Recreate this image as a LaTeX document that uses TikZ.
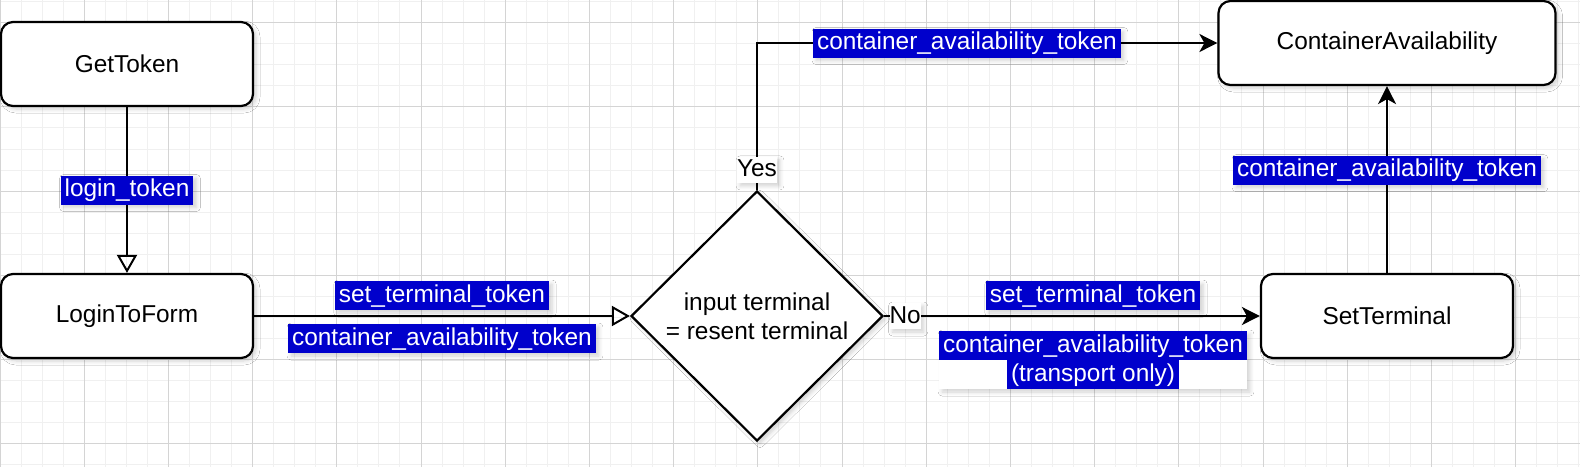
\documentclass[tikz,border=0pt]{standalone}
\usepackage{fontspec}
\setmainfont{Liberation Sans}
\usetikzlibrary{arrows.meta, shapes.geometric, shadows.blur}

\definecolor{tagblue}{RGB}{0,0,204}
\definecolor{gridminor}{RGB}{240,240,240}
\definecolor{gridmajor}{RGB}{212,212,212}
\setlength{\fboxsep}{1pt}
\newcommand{\tagline}[1]{\colorbox{tagblue}{\hspace*{1pt}\rule[-3pt]{0pt}{12.5pt}#1\hspace*{1pt}}}

\begin{document}
\begin{tikzpicture}[x=0.5pt, y=-0.5pt, line width=1pt, font=\fontsize{12.2pt}{14.5pt}\selectfont, soft shadow/.style={blur shadow={shadow xshift=1.5pt, shadow yshift=-1.5pt, shadow opacity=18, shadow blur steps=6, shadow blur radius=2pt}}, box node/.style={rectangle, draw, rounded corners=6pt, line width=1.1pt, fill=white, minimum width=126pt, minimum height=42pt, soft shadow}, cond node/.style={diamond, draw, line width=1.1pt, fill=white, minimum width=126pt, minimum height=125pt, inner sep=0pt, align=center, soft shadow}, tag node/.style={fill=tagblue, text=white, inner xsep=2pt, inner ysep=1pt, text height=9.5pt, text depth=3pt, soft shadow}, tag pair/.style={fill=white, text=white, inner sep=0pt, align=center, soft shadow}, flag node/.style={fill=white, inner xsep=0pt, inner ysep=.5pt, text height=9.5pt, text depth=2.5pt, soft shadow}, open tip/.style={-{Triangle[open, length=9pt, width=10pt]}}, solid tip/.style={-{Stealth[length=9pt, width=9pt, inset=2.5pt]}}, grid line/.style={gridminor, line width=.5pt}, grid major/.style={gridmajor, line width=.5pt}]
\useasboundingbox (0,0) rectangle (1580,467);
\fill[white] (0,0) rectangle (1580,467);
% background grid
\foreach \i in {0,...,75}{
    \draw[grid line] (\i*21.05,0) -- (\i*21.05,467);}
\foreach \i in {0,...,22}{
    \draw[grid line] (0,1.65+\i*21.05) -- (1580,1.65+\i*21.05);}
\foreach \i in {0,...,18}{
    \draw[grid major] (\i*84.2,0) -- (\i*84.2,467);}
\foreach \i in {0,...,5}{
    \draw[grid major] (0,22.7+\i*84.2) -- (1580,22.7+\i*84.2);}
% steps
\node[box node] (gettoken) at (127,64) {GetToken};
\node[box node, node distance=126pt] (login) [below of = gettoken] {LoginToForm};
\node[cond node, node distance=315pt] (cond) [right of = login] {input terminal\\= resent terminal};
\node[box node, node distance=315pt] (setterm) [right of = cond] {SetTerminal};
\node[box node, minimum width=168.5pt, node distance=136.5pt] (avail) [above of = setterm] {ContainerAvailability};
% connectors
\draw[open tip] (gettoken) -- node[tag node]{login\_token} (login);
\draw[open tip] (login) -- node[tag node, above=2.5pt]{set\_terminal\_token} node[tag node, below=3.5pt]{container\_availability\_token} (cond);
\draw[solid tip] (cond.north) |- node[pos=.068, flag node]{Yes} node[pos=.728, tag node]{container\_availability\_token} (avail);
\draw[solid tip] (cond) -- node[pos=.056, flag node]{No} node[pos=.556, tag node, above=2.5pt]{set\_terminal\_token} node[pos=.556, tag pair, below=7pt]{\tagline{container\_availability\_token}\\\tagline{(transport only)}} (setterm);
\draw[solid tip] (setterm) -- node[pos=.55, tag node]{container\_availability\_token} (avail);
\end{tikzpicture}
\end{document}
